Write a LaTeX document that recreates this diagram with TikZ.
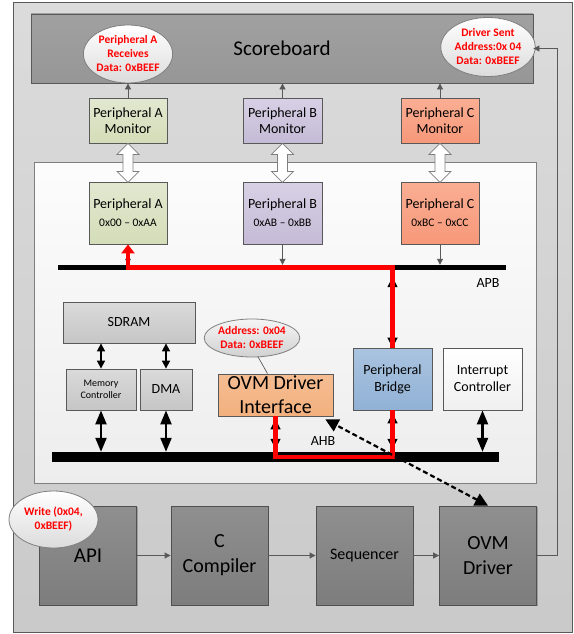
\documentclass[tikz,border=0pt]{standalone}
\usepackage{fontspec}
\setmainfont{Carlito}
\usetikzlibrary{shapes.geometric,arrows.meta,calc,shadows}

\definecolor{edge}{HTML}{595959}
\definecolor{hollowedge}{HTML}{7F7F7F}
\definecolor{busred}{HTML}{FF0000}

\tikzset{
  shade box/.style={draw=edge, line width=0.8pt, align=center, inner sep=1pt, text=black,
    drop shadow={shadow xshift=1.2pt, shadow yshift=-1.2pt, opacity=0.22, fill=black}},
  scorebox/.style={shade box, top color=black!37, bottom color=black!41,
    font=\fontsize{21}{24}\selectfont},
  monA/.style={shade box, top color={rgb,255:red,226;green,232;blue,208}, bottom color={rgb,255:red,212;green,221;blue,184}},
  monB/.style={shade box, top color={rgb,255:red,216;green,209;blue,229}, bottom color={rgb,255:red,196;green,186;blue,214}},
  monC/.style={shade box, top color={rgb,255:red,250;green,174;blue,147}, bottom color={rgb,255:red,247;green,152;blue,122}},
  labelfont/.style={font=\fontsize{14}{16}\selectfont},
  perfont/.style={font=\fontsize{14}{18}\selectfont},
  memory box/.style={shade box, top color={rgb,255:red,218;green,218;blue,218}, bottom color={rgb,255:red,198;green,198;blue,198}},
  bridgebox/.style={shade box, top color={rgb,255:red,170;green,196;blue,224}, bottom color={rgb,255:red,145;green,177;blue,213}},
  ovmibox/.style={shade box, top color={rgb,255:red,245;green,189;blue,146}, bottom color={rgb,255:red,242;green,176;blue,125},
    font=\fontsize{20}{24}\selectfont},
  intbox/.style={shade box, top color=white, bottom color=black!6},
  flowbox/.style={shade box, draw={rgb,255:red,80;green,80;blue,80}, top color=black!44, bottom color=black!51,
    minimum width=97pt, minimum height=99pt},
  callout/.style={ellipse, draw=hollowedge, line width=0.8pt, top color=white, bottom color=black!14,
    text=busred, align=center, inner sep=0pt, font=\bfseries\fontsize{11.5}{14}\selectfont},
  busbar/.style={fill=black, draw=none, inner sep=0pt},
  thinarrow/.style={draw=edge, line width=0.8pt, -{Triangle[width=6pt,length=6pt]}},
  hollowarrow/.style={draw=hollowedge, fill=white, line width=0.8pt},
  smalldbl/.style={black, line width=1.6pt, {Triangle[width=8pt,length=8pt]}-{Triangle[width=8pt,length=8pt]}},
  middbl/.style={black, line width=1.6pt, {Triangle[width=10pt,length=10pt]}-{Triangle[width=10pt,length=10pt]}},
  bigdbl/.style={black, line width=2.2pt, {Triangle[width=11pt,length=14pt]}-{Triangle[width=11pt,length=14pt]}},
  redline/.style={busred, line width=4.5pt},
  dasharrow/.style={black, line width=2.2pt, dash pattern=on 5pt off 3pt,
    {Triangle[width=13pt,length=13pt]}-{Triangle[width=13pt,length=13pt]}},
}

\begin{document}
\begin{tikzpicture}[x=1pt,y=-1pt]
\useasboundingbox (0,0) rectangle (573,634);

% outer frame and inner system panel
\draw[draw=edge, line width=1pt, top color=black!14, bottom color=black!21] (13,3) rectangle (572,632);
\draw[draw=hollowedge, line width=0.9pt, top color=black!1, bottom color=black!7] (34,162) rectangle (536,483);

% scoreboard and monitors
\node[scorebox, minimum width=502pt, minimum height=69pt] (sb) at (282,48.5) {Scoreboard};
\node[callout, minimum width=88pt, minimum height=58pt] (recv) at (128,54)
  {Peripheral A\\Receives\\Data: 0xBEEF};
\node[callout, minimum width=89pt, minimum height=59pt] (sent) at (488,47)
  {Driver Sent\\Address:0x 04\\Data: 0xBEEF};

\node[monA, labelfont, minimum width=78pt, minimum height=45pt] (ma) at (128,120.5) {Peripheral A\\Monitor};
\node[monB, labelfont, minimum width=79pt, minimum height=45pt] (mb) at (282.5,120.5) {Peripheral B\\Monitor};
\node[monC, labelfont, minimum width=78pt, minimum height=45pt] (mc0) at (440,120.5) {Peripheral C\\Monitor};

% peripherals on the APB
\node[monA, perfont, minimum width=78pt, minimum height=62pt] (pa) at (128,213)
  {Peripheral A\\{\fontsize{11.5}{18}\selectfont 0x00 – 0xAA}};
\node[monB, perfont, minimum width=79pt, minimum height=62pt] (pb) at (282.5,213)
  {Peripheral B\\{\fontsize{11.5}{18}\selectfont 0xAB – 0xBB}};
\node[monC, perfont, minimum width=78pt, minimum height=62pt] (pc) at (440,213)
  {Peripheral C\\{\fontsize{11.5}{18}\selectfont 0xBC – 0xCC}};

\node[busbar, minimum width=448pt, minimum height=5pt] (apb) at (282,267.5) {};
\node[labelfont] (apblabel) at (488,283) {APB};

% AHB side
\node[memory box, labelfont, minimum width=132pt, minimum height=41pt] (sdram) at (129,322.5) {SDRAM};
\node[memory box, font=\fontsize{10}{12.5}\selectfont, minimum width=70pt, minimum height=41pt] (memc) at (101,389.5) {Memory\\Controller};
\node[memory box, labelfont, minimum width=52pt, minimum height=41pt] (dma) at (166,389.5) {DMA};
\node[ovmibox, minimum width=115pt, minimum height=42pt] (ovmi) at (275.5,395) {OVM Driver\\Interface};
\node[callout, top color=black!4, bottom color=black!18, minimum width=82pt, minimum height=38pt] (addr) at (252,338)
  {Address: 0x04\\Data: 0xBEEF};
\node[bridgebox, labelfont, font=\fontsize{14}{17}\selectfont, minimum width=79pt, minimum height=62pt] (bridge) at (392.5,379) {Peripheral\\Bridge};
\node[intbox, font=\fontsize{14}{17}\selectfont, minimum width=79pt, minimum height=62pt] (intc) at (482.5,379) {Interrupt\\Controller};

\node[busbar, minimum width=447pt, minimum height=10pt] (ahb) at (275.5,457) {};
\node[labelfont] (ahblabel) at (323,441) {AHB};

% software flow
\node[flowbox, font=\fontsize{21}{25}\selectfont] (api) at (88,555.5) {API};
\node[flowbox, font=\fontsize{20}{25}\selectfont] (cc) at (219.5,555.5) {C\\Compiler};
\node[flowbox, font=\fontsize{16}{20}\selectfont] (seq) at (364.5,555.5) {Sequencer};
\node[flowbox, font=\fontsize{20}{25}\selectfont] (ovmd) at (488,555.5) {OVM\\Driver};
\node[callout, minimum width=89pt, minimum height=57pt] (write) at (53.5,519.5) {Write (0x04,\\0xBEEF)};

% monitor to scoreboard
\draw[thinarrow] (ma.north) -- (ma.north |- sb.south);
\draw[thinarrow] (mb.north) -- (mb.north |- sb.south);
\draw[thinarrow] (mc0.north) -- (mc0.north |- sb.south);

% monitor to peripheral links
\draw[hollowarrow] (ma.south) -- ++(11,11) -- ++(-6,0) -- ++(0,17) -- ++(6,0) -- ++(-11,11)
  -- ++(-11,-11) -- ++(6,0) -- ++(0,-17) -- ++(-6,0) -- cycle;
\draw[hollowarrow] (mb.south) -- ++(11,11) -- ++(-6,0) -- ++(0,17) -- ++(6,0) -- ++(-11,11)
  -- ++(-11,-11) -- ++(6,0) -- ++(0,-17) -- ++(-6,0) -- cycle;
\draw[hollowarrow] (mc0.south) -- ++(11,11) -- ++(-6,0) -- ++(0,17) -- ++(6,0) -- ++(-11,11)
  -- ++(-11,-11) -- ++(6,0) -- ++(0,-17) -- ++(-6,0) -- cycle;

% peripherals to APB
\draw[thinarrow] (pa.south) -- (pa.south |- apb.north);
\draw[thinarrow] (pb.south) -- (pb.south |- apb.north);
\draw[thinarrow] (pc.south) -- (pc.south |- apb.north);

% memory and bus links
\draw[smalldbl] (memc.north) -- (memc.north |- sdram.south);
\draw[smalldbl] (dma.north) -- (dma.north |- sdram.south);
\draw[bigdbl] (memc.south) -- (memc.south |- ahb.north);
\draw[bigdbl] (dma.south) -- (dma.south |- ahb.north);
\draw[bigdbl] (intc.south) -- (intc.south |- ahb.north);
\draw[middbl] (bridge.north) -- ($(bridge.north |- apb.south)+(0,7)$);
\draw[middbl] ($(bridge.south)+(0,3)$) -- ($(bridge.south |- ahb.north)+(0,-3)$);
\draw[middbl] ($(ovmi.south)+(0,3)$) -- ($(ovmi.south |- ahb.north)+(0,-3)$);

% highlighted write transaction
\draw[redline] (ovmi.south) -- (ovmi.south |- ahb.center) -| (bridge.south);
\draw[redline, -{Triangle[width=13pt,length=9pt]}] (bridge.north) -- (bridge.north |- apb.center) -| (pa.south);

% callout pointer
\draw[draw=edge, line width=0.7pt] (addr.-72) -- ($(ovmi.north)+(-8,0)$);

% driver to interface link
\draw[dasharrow] (ovmd.north) -- ($(ovmi.south east)+(-8,3)$);

% flow arrows
\draw[thinarrow] (api.east) -- (cc.west);
\draw[thinarrow] (cc.east) -- (seq.west);
\draw[thinarrow] (seq.east) -- (ovmd.west);
\coordinate (fb) at (557,0);
\draw[thinarrow] (ovmd.east) -- (ovmd.east -| fb) |- (sb.east);
\end{tikzpicture}
\end{document}
